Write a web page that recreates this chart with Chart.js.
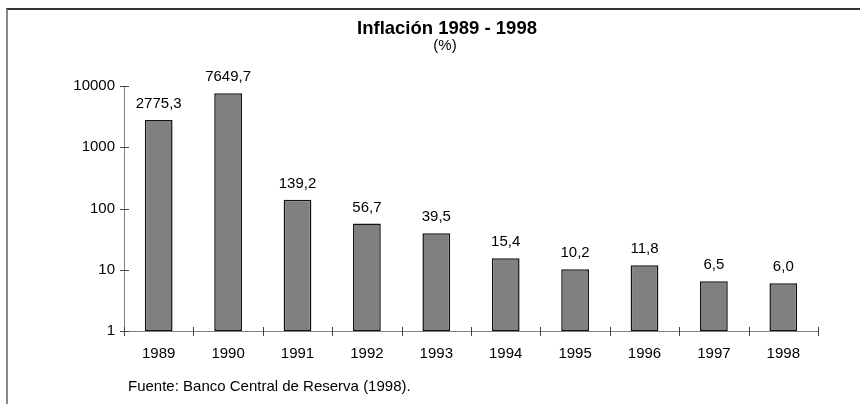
<!DOCTYPE html>
<html lang="es">
<head>
  <meta charset="UTF-8" />
  <title>Inflación 1989 - 1998</title>
  <script src="https://cdn.jsdelivr.net/npm/chart.js"></script>
  <style>
    html, body { margin: 0; padding: 0; background: #fff; overflow: hidden; }
    .wrap { position: relative; width: 860px; height: 404px; }
    /* frame of the original picture, only top and left edges are visible */
    .frame {
      position: absolute; left: 6px; top: 8px; width: 1000px; height: 1000px;
      border-top: 2px solid #333; border-left: 2px solid #888;
    }
    canvas { position: absolute; left: 0; top: 0; }
  </style>
</head>
<body>
<div class="wrap">
  <div class="frame"></div>
  <canvas id="chart" width="860" height="404"></canvas>
</div>

<script>
  // Data
  const years = ['1989', '1990', '1991', '1992', '1993', '1994', '1995', '1996', '1997', '1998'];
  const inflation = [2775.3, 7649.7, 139.2, 56.7, 39.5, 15.4, 10.2, 11.8, 6.5, 6.0];
  const yTicks = [1, 10, 100, 1000, 10000];
  const titleText = 'Inflación 1989 - 1998';
  const subtitleText = '(%)';
  const sourceText = 'Fuente: Banco Central de Reserva (1998).';

  const FONT = '"Liberation Sans", Arial, sans-serif';
  Chart.defaults.font.family = FONT;
  Chart.defaults.color = '#000';

  // tick marks crossing the axes, like the original
  const crossTicks = {
    id: 'crossTicks',
    afterDraw(chart) {
      const { ctx, chartArea, scales } = chart;
      ctx.save();
      ctx.strokeStyle = '#444';
      ctx.lineWidth = 1;
      ctx.beginPath();
      yTicks.forEach(v => {
        const py = Math.round(scales.y.getPixelForValue(v)) + 0.5;
        ctx.moveTo(chartArea.left - 4, py);
        ctx.lineTo(chartArea.left + 5, py);
      });
      for (let i = 0; i <= years.length; i++) {
        const px = Math.round(scales.x.getPixelForValue(i - 0.5)) + 0.5;
        ctx.moveTo(px, chartArea.bottom - 4);
        ctx.lineTo(px, chartArea.bottom + 5);
      }
      ctx.stroke();
      ctx.restore();
    }
  };

  // value above each bar, with decimal comma
  const barLabels = {
    id: 'barLabels',
    afterDatasetsDraw(chart) {
      const { ctx } = chart;
      const meta = chart.getDatasetMeta(0);
      ctx.save();
      ctx.font = '15px ' + FONT;
      ctx.fillStyle = '#000';
      ctx.textAlign = 'center';
      ctx.textBaseline = 'middle';
      meta.data.forEach((bar, i) => {
        ctx.fillText(inflation[i].toFixed(1).replace('.', ','), bar.x, bar.y - 16);
      });
      ctx.restore();
    }
  };

  // title, subtitle and source note
  const texts = {
    id: 'texts',
    afterDraw(chart) {
      const { ctx } = chart;
      ctx.save();
      ctx.fillStyle = '#000';
      ctx.textAlign = 'center';
      ctx.textBaseline = 'middle';
      ctx.font = 'bold 18.5px ' + FONT;
      ctx.fillText(titleText, 447, 29);
      ctx.font = '15px ' + FONT;
      ctx.fillText(subtitleText, 445, 46);
      ctx.textAlign = 'left';
      ctx.font = '15px ' + FONT;
      ctx.fillText(sourceText, 128, 387);
      ctx.restore();
    }
  };

  new Chart(document.getElementById('chart'), {
    type: 'bar',
    data: {
      labels: years,
      datasets: [{
        data: inflation,
        backgroundColor: '#808080',
        borderColor: '#111',
        borderWidth: 1.5,
        borderSkipped: false,
        barPercentage: 0.4,
        categoryPercentage: 1
      }]
    },
    options: {
      responsive: false,
      animation: false,
      layout: { padding: { top: 86, right: 42, left: 0, bottom: 0 } },
      plugins: {
        legend: { display: false },
        title: { display: false },
        tooltip: { enabled: false }
      },
      scales: {
        x: {
          offset: true,
          grid: { display: false, drawTicks: false },
          border: { color: '#808080', width: 1 },
          ticks: { font: { size: 15 }, color: '#000', padding: 14, maxRotation: 0 },
          afterFit(scale) { scale.height = 73; }
        },
        y: {
          type: 'logarithmic',
          min: 1,
          max: 10000,
          grid: { display: false, drawTicks: false },
          border: { color: '#808080', width: 1 },
          afterBuildTicks(scale) { scale.ticks = yTicks.map(v => ({ value: v })); },
          ticks: { font: { size: 15 }, color: '#000', padding: 9, callback: v => String(v) },
          afterFit(scale) { scale.width = 124; }
        }
      }
    },
    plugins: [crossTicks, barLabels, texts]
  });
</script>
</body>
</html>
